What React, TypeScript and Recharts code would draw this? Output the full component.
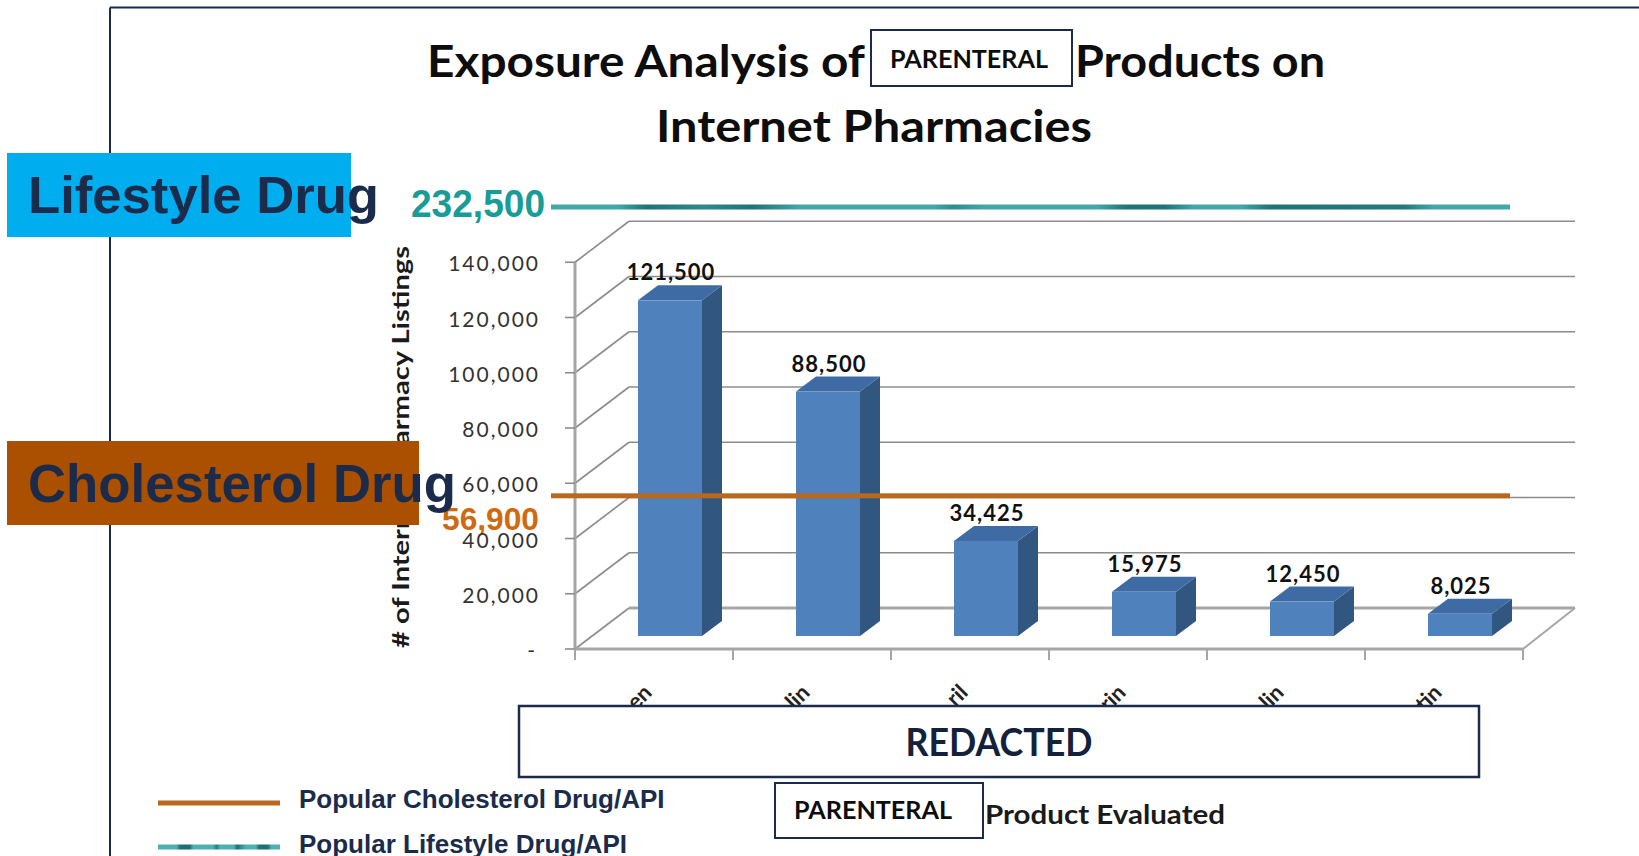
import React from 'react';
import {
    Bar,
    CartesianGrid,
    ComposedChart,
    LabelList,
    Legend,
    ReferenceLine,
    XAxis,
    YAxis
} from 'recharts';

// category names are redacted in the source, only their tails show
const categories = ['en', 'lin', 'ril', 'rin', 'lin', 'tin'];
const listings = [121500, 88500, 34425, 15975, 12450, 8025];
const yTicks = [0, 20000, 40000, 60000, 80000, 100000, 120000, 140000];
const yMax = 160000;
const cholesterolListings = 56900;
const lifestyleListings = 232500;
const legendItems = [
    { label: 'Popular Cholesterol Drug/API', fill: '#B8691F' },
    { label: 'Popular Lifestyle Drug/API', fill: 'url(#tealLegend)' },
];
const yTitle = '# of Internet Pharmacy Listings';

const data = categories.map((name, i) => ({ slot: i, name, listings: listings[i] }));

const CHART_W = 1639;
const CHART_H = 856;
const MARGIN = { top: 207, right: 116, bottom: 147, left: 495 };
const Y_AXIS_W = 80;
const X_AXIS_H = 60;
const PLOT_LEFT = MARGIN.left + Y_AXIS_W;
const PLOT_W = CHART_W - MARGIN.right - PLOT_LEFT;
const PLOT_BOTTOM = CHART_H - MARGIN.bottom - X_AXIS_H;
const PLOT_H = PLOT_BOTTOM - MARGIN.top;
const TOP_TICK_Y = PLOT_BOTTOM - (yTicks[yTicks.length - 1] / yMax) * PLOT_H;

// 3D look
const WALL_DX = 54;
const WALL_DY = -41;
const BAR_DX = 16;
const BAR_DY = -13;
const DEPTH_X = 20;
const DEPTH_Y = -15;
const GRID = '#8c8c8c';
const EDGE = '#a6a6a6';
const NAVY = '#1B2B4B';

const fmt = (v: number) => v.toLocaleString('en-US');

const GridLine = (p: any) => {
    const { x1, x2, y1 } = p;
    // no wall line above the last tick
    if (y1 < TOP_TICK_Y - 1) return <g key={`g-${y1}`} />;
    const floor = Math.abs(y1 - PLOT_BOTTOM) < 1;
    const top = Math.abs(y1 - TOP_TICK_Y) < 1;
    return (
        <g key={`g-${y1}`}>
            <line x1={x1} y1={y1} x2={x1 + WALL_DX} y2={y1 + WALL_DY} stroke={GRID} strokeWidth={1.6} />
            <line
                x1={x1 + WALL_DX}
                y1={y1 + WALL_DY}
                x2={x2 + WALL_DX - 2}
                y2={y1 + WALL_DY}
                stroke={floor ? EDGE : GRID}
                strokeWidth={floor ? 3 : 1.6}
            />
            {floor && (
                <line x1={x2} y1={y1} x2={x2 + WALL_DX - 2} y2={y1 + WALL_DY} stroke={EDGE} strokeWidth={2} />
            )}
            {top && <line x1={x1} y1={y1} x2={x1} y2={PLOT_BOTTOM} stroke={EDGE} strokeWidth={3} />}
        </g>
    );
};

const Bar3D = (props: any) => {
    const { x, y, width, height } = props;
    if (!height || height <= 0) return null;
    const fx = x + BAR_DX;
    const fy = y + BAR_DY;
    const r = fx + width;
    const b = fy + height;
    return (
        <g>
            <polygon
                points={`${r},${fy} ${r + DEPTH_X},${fy + DEPTH_Y} ${r + DEPTH_X},${b + DEPTH_Y} ${r},${b}`}
                fill="#31567F"
            />
            <polygon
                points={`${fx},${fy} ${fx + DEPTH_X},${fy + DEPTH_Y} ${r + DEPTH_X},${fy + DEPTH_Y} ${r},${fy}`}
                fill="#3F6BA4"
            />
            <rect x={fx} y={fy} width={width} height={height} fill="#4F81BD" />
        </g>
    );
};

const BarValueLabel = (p: any) => {
    const { x, y, width, value } = p;
    return (
        <text
            x={x + width / 2 + BAR_DX + 1}
            y={y + BAR_DY - 20}
            textAnchor="middle"
            fontFamily="Lato"
            fontWeight={700}
            fontSize={22}
            letterSpacing={1}
            fill="#111"
        >
            {fmt(value)}
        </text>
    );
};

const XTick = (p: any) => {
    const { x, payload } = p;
    const band = PLOT_W / categories.length;
    const ax = x - 1;
    const ay = PLOT_BOTTOM + 45;
    return (
        <g>
            <line x1={x - band / 2} y1={PLOT_BOTTOM} x2={x - band / 2} y2={PLOT_BOTTOM + 11} stroke={EDGE} strokeWidth={2} />
            {payload.value === categories.length - 1 && (
                <line x1={x + band / 2} y1={PLOT_BOTTOM} x2={x + band / 2} y2={PLOT_BOTTOM + 11} stroke={EDGE} strokeWidth={2} />
            )}
            <text
                x={ax}
                y={ay}
                textAnchor="end"
                transform={`rotate(-45, ${ax}, ${ay})`}
                fontFamily="Lato"
                fontWeight={700}
                fontSize={22}
                fill="#222"
            >
                {categories[payload.value]}
            </text>
        </g>
    );
};

const YTick = (p: any) => {
    const { x, y, payload } = p;
    const v = payload.value;
    return (
        <text
            x={v === 0 ? x - 3 : x}
            y={y}
            dy={9}
            textAnchor="end"
            fontFamily="Lato"
            fontSize={21}
            letterSpacing={2}
            fill="#333"
        >
            {v === 0 ? '-' : fmt(v)}
        </text>
    );
};

const YLabel = (p: any) => {
    const vb = p.viewBox;
    const cx = vb.x - 95;
    const cy = vb.y + vb.height / 2 + 19;
    return (
        <text
            x={cx}
            y={cy}
            transform={`rotate(-90, ${cx}, ${cy})`}
            textAnchor="middle"
            dominantBaseline="central"
            fontFamily="Lato"
            fontWeight={700}
            fontSize={23}
            textLength={402}
            lengthAdjust="spacingAndGlyphs"
            fill="#1a1a1a"
        >
            {yTitle}
        </text>
    );
};

const LifestyleLine = (p: any) => {
    const { x1, y1, x2 } = p;
    const left = x1 - 24;
    const right = x2 - 13;
    return (
        <g>
            <rect x={left} y={y1 - 2.5} width={right - left} height={5} fill="url(#tealTexture)" />
            <text
                x={left - 6}
                y={y1 + 10}
                textAnchor="end"
                fontFamily="'Liberation Sans Narrow', 'Liberation Sans', Arial"
                fontWeight={700}
                fontSize={39}
                textLength={134}
                lengthAdjust="spacingAndGlyphs"
                fill="#199C98"
            >
                {fmt(lifestyleListings)}
            </text>
        </g>
    );
};

const CholesterolLine = (p: any) => {
    const { x1, y1, x2 } = p;
    const left = x1 - 24;
    const right = x2 - 13;
    const ly = y1 + 4;
    return (
        <g>
            <rect x={left} y={ly - 2.5} width={right - left} height={5} fill="#B8691F" />
            <text
                x={left - 12}
                y={ly + 34}
                textAnchor="end"
                fontFamily="'Liberation Sans Narrow', 'Liberation Sans', Arial"
                fontWeight={700}
                fontSize={31}
                textLength={97}
                lengthAdjust="spacingAndGlyphs"
                fill="#CF6A12"
            >
                {fmt(cholesterolListings)}
            </text>
        </g>
    );
};

const LegendContent = () => (
    <svg width={560} height={80} style={{ display: 'block', overflow: 'visible' }}>
        {legendItems.map((item, i) => (
            <g key={item.label}>
                <rect x={8} y={20.5 + i * 44} width={122} height={5} fill={item.fill} />
                <text
                    x={149}
                    y={28 + i * 45}
                    fontFamily="'Liberation Sans', Arial"
                    fontWeight={700}
                    fontSize={26}
                    fill={NAVY}
                >
                    {item.label}
                </text>
            </g>
        ))}
    </svg>
);

const titleFont = { fontFamily: 'Lato', fontWeight: 700, fill: '#0d0d0d' };

export default function App() {
    return (
        <div
            style={{
                position: 'absolute',
                left: 0,
                top: 0,
                width: CHART_W,
                height: CHART_H,
                background: '#fff',
                overflow: 'hidden'
            }}
        >
            <ComposedChart width={CHART_W} height={CHART_H} data={data} margin={MARGIN}>
                <defs>
                    <linearGradient id="tealTexture" x1="0" y1="0" x2="1" y2="0">
                        <stop offset="0" stopColor="#41A7A9" />
                        <stop offset="0.07" stopColor="#41A7A9" />
                        <stop offset="0.1" stopColor="#1F7377" />
                        <stop offset="0.16" stopColor="#2B8A8D" />
                        <stop offset="0.21" stopColor="#1F7377" />
                        <stop offset="0.26" stopColor="#41A7A9" />
                        <stop offset="0.4" stopColor="#41A7A9" />
                        <stop offset="0.42" stopColor="#2D8C8F" />
                        <stop offset="0.45" stopColor="#41A7A9" />
                        <stop offset="0.57" stopColor="#41A7A9" />
                        <stop offset="0.6" stopColor="#1F7377" />
                        <stop offset="0.64" stopColor="#1F7377" />
                        <stop offset="0.67" stopColor="#41A7A9" />
                        <stop offset="0.72" stopColor="#41A7A9" />
                        <stop offset="0.75" stopColor="#1F7377" />
                        <stop offset="0.89" stopColor="#24797D" />
                        <stop offset="0.92" stopColor="#41A7A9" />
                        <stop offset="1" stopColor="#41A7A9" />
                    </linearGradient>
                    <linearGradient id="tealLegend" x1="0" y1="0" x2="1" y2="0">
                        <stop offset="0" stopColor="#4FB0B4" />
                        <stop offset="0.15" stopColor="#4FB0B4" />
                        <stop offset="0.18" stopColor="#1F6F74" />
                        <stop offset="0.26" stopColor="#1F6F74" />
                        <stop offset="0.29" stopColor="#4FB0B4" />
                        <stop offset="0.45" stopColor="#4FB0B4" />
                        <stop offset="0.48" stopColor="#2A7F83" />
                        <stop offset="0.51" stopColor="#4FB0B4" />
                        <stop offset="0.62" stopColor="#4FB0B4" />
                        <stop offset="0.65" stopColor="#1F6F74" />
                        <stop offset="0.72" stopColor="#4FB0B4" />
                        <stop offset="0.8" stopColor="#4FB0B4" />
                        <stop offset="0.83" stopColor="#1F6F74" />
                        <stop offset="0.9" stopColor="#1F6F74" />
                        <stop offset="0.93" stopColor="#4FB0B4" />
                        <stop offset="1" stopColor="#4FB0B4" />
                    </linearGradient>
                </defs>

                <CartesianGrid vertical={false} horizontal={(p: any) => <GridLine {...p} />} />

                <XAxis
                    dataKey="slot"
                    type="category"
                    height={X_AXIS_H}
                    interval={0}
                    axisLine={{ stroke: EDGE, strokeWidth: 3 }}
                    tickLine={false}
                    tick={(p: any) => <XTick {...p} />}
                />

                <YAxis
                    width={Y_AXIS_W}
                    domain={[0, yMax]}
                    ticks={yTicks}
                    interval={0}
                    axisLine={false}
                    tickLine={{ stroke: GRID, strokeWidth: 1.6 }}
                    tickSize={10}
                    tickMargin={25}
                    tick={(p: any) => <YTick {...p} />}
                    label={(p: any) => <YLabel {...p} />}
                />

                <Legend
                    layout="horizontal"
                    verticalAlign="middle"
                    align="center"
                    wrapperStyle={{ left: 150, top: 780, width: 560, height: 80 }}
                    content={() => <LegendContent />}
                />

                <Bar
                    dataKey="listings"
                    barSize={64}
                    shape={(p: any) => <Bar3D {...p} />}
                    isAnimationActive={false}
                >
                    <LabelList dataKey="listings" content={(p: any) => <BarValueLabel {...p} />} />
                </Bar>

                <ReferenceLine y={cholesterolListings} shape={(p: any) => <CholesterolLine {...p} />} />
                <ReferenceLine
                    y={Math.min(lifestyleListings, yMax)}
                    shape={(p: any) => <LifestyleLine {...p} />}
                />
            </ComposedChart>

            <svg
                width={CHART_W}
                height={CHART_H}
                style={{ position: 'absolute', left: 0, top: 0, pointerEvents: 'none', zIndex: 2 }}
            >
                {/* slide frame */}
                <line x1={110} y1={7.5} x2={CHART_W} y2={7.5} stroke={NAVY} strokeWidth={2} />
                <line x1={110} y1={7.5} x2={110} y2={CHART_H} stroke={NAVY} strokeWidth={2} />

                {/* title */}
                <text x={427} y={77} fontSize={43} textLength={438} lengthAdjust="spacingAndGlyphs" {...titleFont}>
                    Exposure Analysis of
                </text>
                <rect x={871} y={30} width={201} height={56} fill="#fff" stroke={NAVY} strokeWidth={2} />
                <text x={890} y={68} fontSize={24} textLength={158} lengthAdjust="spacingAndGlyphs" {...titleFont}>
                    PARENTERAL
                </text>
                <text x={1075} y={77} fontSize={43} textLength={250} lengthAdjust="spacingAndGlyphs" {...titleFont}>
                    Products on
                </text>
                <text x={656} y={142} fontSize={43} textLength={436} lengthAdjust="spacingAndGlyphs" {...titleFont}>
                    Internet Pharmacies
                </text>

                {/* callouts */}
                <rect x={7} y={153} width={344} height={84} fill="#00AEEF" />
                <text
                    x={28}
                    y={213}
                    fontFamily="'Liberation Sans', Arial"
                    fontWeight={700}
                    fontSize={52}
                    textLength={351}
                    lengthAdjust="spacingAndGlyphs"
                    fill={NAVY}
                >
                    Lifestyle Drug
                </text>
                <rect x={7} y={441} width={412} height={84} fill="#AA5000" />
                <text
                    x={28}
                    y={502}
                    fontFamily="'Liberation Sans', Arial"
                    fontWeight={700}
                    fontSize={53}
                    textLength={428}
                    lengthAdjust="spacingAndGlyphs"
                    fill={NAVY}
                >
                    Cholesterol Drug
                </text>

                {/* redaction over the category names */}
                <rect x={519} y={706} width={960} height={71} fill="#fff" stroke={NAVY} strokeWidth={2.5} />
                <text
                    x={999}
                    y={756}
                    textAnchor="middle"
                    fontFamily="Lato"
                    fontWeight={700}
                    fontSize={38}
                    textLength={187}
                    lengthAdjust="spacingAndGlyphs"
                    fill="#13213B"
                >
                    REDACTED
                </text>

                {/* x axis title */}
                <rect x={775} y={783} width={208} height={55} fill="#fff" stroke={NAVY} strokeWidth={2} />
                <text x={794} y={819} fontSize={24} textLength={158} lengthAdjust="spacingAndGlyphs" {...titleFont}>
                    PARENTERAL
                </text>
                <text
                    x={985}
                    y={824}
                    fontSize={27}
                    textLength={240}
                    lengthAdjust="spacingAndGlyphs"
                    {...titleFont}
                    fill="#1a1a1a"
                >
                    Product Evaluated
                </text>
            </svg>
        </div>
    );
}
